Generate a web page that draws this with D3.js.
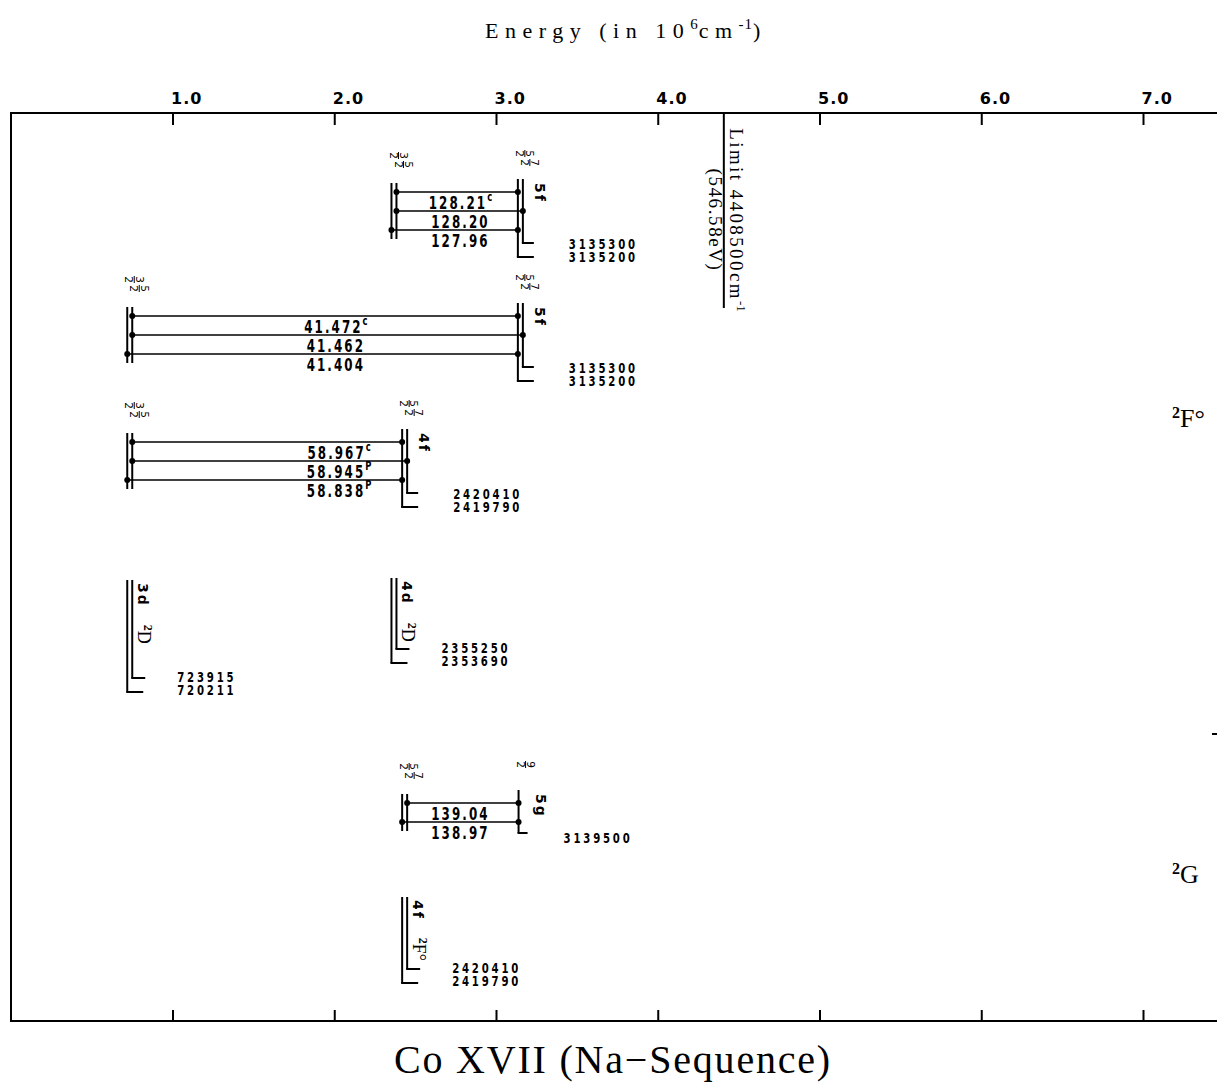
<!DOCTYPE html>
<html><head><meta charset="utf-8">
<script src="https://cdn.jsdelivr.net/npm/d3@7"></script>
<style>body{margin:0;background:#fff}</style>
</head><body>
<svg id="chart" width="1217" height="1087"></svg>
<script>
// ---------------- data ----------------
const tickValues = [1.0, 2.0, 3.0, 4.0, 5.0, 6.0, 7.0];

const levelIds    = ["3d_3/2","3d_5/2","4d_3/2","4d_5/2","4f_5/2","4f_7/2","5f_5/2","5f_7/2","5g_9/2"];
const levelConfig = ["3d","3d","4d","4d","4f","4f","5f","5f","5g"];
const levelJ      = ["3/2","5/2","3/2","5/2","5/2","7/2","5/2","7/2","9/2"];
const levelEnergy = [720211, 723915, 2353690, 2355250, 2419790, 2420410, 3135200, 3135300, 3139500]; // cm-1

const lineLower      = ["4d_5/2","4d_5/2","4d_3/2","3d_5/2","3d_5/2","3d_3/2","3d_5/2","3d_5/2","3d_3/2","4f_7/2","4f_5/2"];
const lineUpper      = ["5f_5/2","5f_7/2","5f_5/2","5f_5/2","5f_7/2","5f_5/2","4f_5/2","4f_7/2","4f_5/2","5g_9/2","5g_9/2"];
const lineWavelength = ["128.21","128.20","127.96","41.472","41.462","41.404","58.967","58.945","58.838","139.04","138.97"];
const lineNote       = ["c","","","c","","","c","P","P","",""];
const linePanel      = ["A","A","A","B","B","B","C","C","C","E","E"];

const termPanels  = ["D","Dp","F"];           // level-only panels
const termConfig  = ["3d","4d","4f"];
const termName    = ["D","D","F°"];

const limitEnergy = 4408500;
const limitText1 = "Limit 4408500cm";
const limitText2 = "(546.58eV)";
const sideTerms = ["F°","G"];

// ---------------- layout ----------------
const W = 1217, H = 1087;
const frameTop = 113, frameBottom = 1021, frameLeft = 11;
const sans = "'DejaVu Sans','Liberation Sans',sans-serif";
const serif = "'Liberation Serif','DejaVu Serif',serif";
const panelLineY = {A: 192, B: 316, C: 442, E: 803};
const panelLabelE = {A: 2.78, B: 2.01, C: 2.03, E: 2.78};
const termPanelTop = {D: 580, Dp: 578, F: 897};
const termPanelFoot = {D: 692, Dp: 663, F: 983};
const sideTermY = [427, 883];
const step = 19, split = 5, squeeze = 0.7;

const svg = d3.select("#chart");
const x = d3.scaleLinear().domain([0, 7.5]).range([10.75, 10.75 + 7.5 * 161.75]);

const levels = levelIds.map((id, i) => ({id, config: levelConfig[i], J: levelJ[i], E: levelEnergy[i]}));
const byId = Object.fromEntries(levels.map(l => [l.id, l]));
function lx(id) {
  const l = byId[id];
  const partner = levels.find(o => o.config === l.config && o.id !== id);
  const hi = partner && l.E > partner.E;
  const base = partner ? Math.min(l.E, partner.E) : l.E;
  return x(base / 1e6) + (hi ? split : 0);
}
function doublet(config) { return levels.filter(l => l.config === config).sort((a, b) => a.E - b.E); }
function ctext(px, py, size, ls, anchor) {
  const g = svg.append("g").attr("transform", `translate(${px},${py}) scale(${squeeze},1)`);
  return g.append("text").attr("font-family", sans).attr("font-weight", "bold")
    .attr("font-size", size).attr("letter-spacing", ls).attr("text-anchor", anchor || "start");
}

// ---------------- frame & axes ----------------
svg.append("path")
  .attr("d", `M${W + 5},${frameTop}H${frameLeft}V${frameBottom}H${W + 5}`)
  .attr("fill", "none").attr("stroke", "#000").attr("stroke-width", 2);

const gTop = svg.append("g").attr("transform", `translate(0,${frameTop})`)
  .call(d3.axisTop(x).tickValues(tickValues).tickFormat(d3.format(".1f"))
    .tickSizeInner(-12).tickSizeOuter(0).tickPadding(9));
gTop.select(".domain").remove();
gTop.selectAll(".tick line").attr("stroke", "#000").attr("stroke-width", 2);
gTop.selectAll(".tick text").attr("text-anchor", "start").attr("dx", -2)
  .attr("font-family", sans).attr("font-size", 16).attr("font-weight", "bold")
  .attr("letter-spacing", 1).attr("fill", "#000");

const gBot = svg.append("g").attr("transform", `translate(0,${frameBottom})`)
  .call(d3.axisBottom(x).tickValues(tickValues).tickFormat(() => "")
    .tickSizeInner(-11).tickSizeOuter(0));
gBot.select(".domain").remove();
gBot.selectAll(".tick line").attr("stroke", "#000").attr("stroke-width", 2);

// titles
const t1 = svg.append("text").attr("x", 626).attr("y", 38).attr("text-anchor", "middle")
  .attr("font-family", serif).attr("font-size", 22).attr("letter-spacing", 6.5);
t1.append("tspan").text("Energy (in 10");
t1.append("tspan").attr("dy", -9).attr("font-size", 15).attr("letter-spacing", 1).text("6");
t1.append("tspan").attr("dy", 9).text("cm");
t1.append("tspan").attr("dy", -9).attr("font-size", 15).attr("letter-spacing", 1).text("-1");
t1.append("tspan").attr("dy", 9).text(")");

svg.append("text").attr("x", 613).attr("y", 1073).attr("text-anchor", "middle")
  .attr("font-family", serif).attr("font-size", 40).attr("letter-spacing", 1.8)
  .text("Co XVII (Na\u2212Sequence)");

// limit
const xl = x(limitEnergy / 1e6);
svg.append("line").attr("x1", xl).attr("x2", xl).attr("y1", frameTop).attr("y2", 308)
  .attr("stroke", "#000").attr("stroke-width", 2);
const gl = svg.append("g").attr("transform", `translate(${xl + 6},220) rotate(90)`)
  .attr("font-family", serif).attr("font-size", 19).attr("letter-spacing", 2.4);
const lt = gl.append("text").attr("text-anchor", "middle").attr("y", 0);
lt.append("tspan").text(limitText1);
lt.append("tspan").attr("dy", -7).attr("font-size", 13).attr("letter-spacing", 0).text("-1");
gl.append("text").attr("text-anchor", "middle").attr("y", 21).attr("letter-spacing", 1.6).text(limitText2);

// side terms
sideTerms.forEach((t, i) => {
  const tx = svg.append("text").attr("x", 1172).attr("y", sideTermY[i])
    .attr("font-family", serif).attr("font-size", 26);
  tx.append("tspan").attr("font-size", 16).attr("font-weight", "bold").attr("dy", -9).text("2");
  tx.append("tspan").attr("dy", 9).text(t);
});
svg.append("line").attr("x1", 1212).attr("x2", 1217).attr("y1", 734).attr("y2", 734)
  .attr("stroke", "#000").attr("stroke-width", 2);

// ---------------- helpers ----------------
function vline(xv, y1, y2, foot) {
  svg.append("line").attr("x1", xv).attr("x2", xv).attr("y1", y1).attr("y2", y2)
    .attr("stroke", "#000").attr("stroke-width", 2);
  if (foot) svg.append("line").attr("x1", xv - 1).attr("x2", xv + foot).attr("y1", y2).attr("y2", y2)
    .attr("stroke", "#000").attr("stroke-width", 2);
}
function fraction(xv, ytop, J) {
  const [num, den] = J.split("/");
  const g = svg.append("g").attr("transform", `translate(${xv + 7},${ytop}) rotate(90)`)
    .attr("font-family", sans).attr("font-size", 10.5).attr("text-anchor", "middle");
  g.append("text").attr("x", 3.5).attr("y", -1.3).text(num);
  g.append("line").attr("x1", 0).attr("x2", 7).attr("y1", 0).attr("y2", 0).attr("stroke", "#000").attr("stroke-width", 1);
  g.append("text").attr("x", 3.5).attr("y", 8.8).text(den);
}
function energyLabels(xs, baseLow, list) {
  list.forEach((l, i) => {
    ctext(xs, baseLow - (list.length - 1 - i) * 13, 14.5, 4).text(l.E);
  });
}
function rotLabel(xv, ytop, txt) {
  svg.append("text").attr("transform", `translate(${xv},${ytop}) rotate(90)`)
    .attr("font-family", sans).attr("font-size", 14).attr("font-weight", "bold")
    .attr("letter-spacing", 2).text(txt);
}

// ---------------- transition panels ----------------
const transitions = lineWavelength.map((w, i) => ({w, note: lineNote[i], lo: lineLower[i], up: lineUpper[i], panel: linePanel[i]}));
d3.groups(transitions, d => d.panel).forEach(([panel, trs]) => {
  const y1 = panelLineY[panel];
  const yLast = y1 + (trs.length - 1) * step;
  const loCfg = byId[trs[0].lo].config, upCfg = byId[trs[0].up].config;
  const lows = doublet(loCfg), ups = doublet(upCfg);
  lows.forEach((l, i) => {
    vline(lx(l.id), y1 - 9, yLast + 9, 0);
    fraction(lx(l.id), y1 - 40 + i * 9, l.J);
  });
  const isSingle = ups.length === 1;
  ups.forEach((u, i) => {
    const foot = isSingle ? yLast + 11 : (i === 0 ? yLast + 27 : yLast + 13);
    vline(lx(u.id), y1 - 13, foot, isSingle ? 9 : (i === 0 ? 16 : 11));
    fraction(lx(u.id), y1 - 42 + i * 9, u.J);
  });
  const x0 = lx(ups[0].id);
  rotLabel(x0 + 17, y1 - 9, upCfg);
  energyLabels(x0 + (isSingle ? 45 : 51), isSingle ? yLast + 21 : yLast + 32, ups.slice().reverse());
  trs.forEach((t, i) => {
    const y = y1 + i * step;
    const xa = lx(t.lo), xb = lx(t.up);
    svg.append("line").attr("x1", xa).attr("x2", xb).attr("y1", y).attr("y2", y)
      .attr("stroke", "#000").attr("stroke-width", 1.6);
    [xa, xb].forEach(xx => svg.append("circle").attr("cx", xx).attr("cy", y).attr("r", 3).attr("fill", "#000"));
    const tx = ctext(x(panelLabelE[panel]), y + 17, 17, 3, "middle");
    tx.append("tspan").text(t.w);
    if (t.note) tx.append("tspan").attr("dy", -8).attr("font-size", 12).attr("letter-spacing", 0).text(t.note);
  });
});

// ---------------- level-only panels ----------------
termPanels.forEach((p, k) => {
  const ds = doublet(termConfig[k]);
  const top = termPanelTop[p], foot = termPanelFoot[p];
  ds.forEach((l, i) => {
    vline(lx(l.id), top, i === 0 ? foot : foot - 14, 16 - i * 3);
  });
  const x0 = lx(ds[0].id);
  const g = svg.append("text").attr("transform", `translate(${x0 + 11},${top + 3}) rotate(90)`);
  g.append("tspan").attr("font-family", sans).attr("font-size", 14).attr("font-weight", "bold")
    .attr("letter-spacing", 2).text(termConfig[k]);
  g.append("tspan").attr("dx", 18).attr("dy", -6).attr("font-family", serif).attr("font-size", 12).attr("font-weight", "bold").text("2");
  g.append("tspan").attr("dy", 6).attr("font-family", serif).attr("font-size", 18).text(termName[k]);
  energyLabels(x0 + 50, foot + 3, ds.slice().reverse());
});
</script>
</body></html>
